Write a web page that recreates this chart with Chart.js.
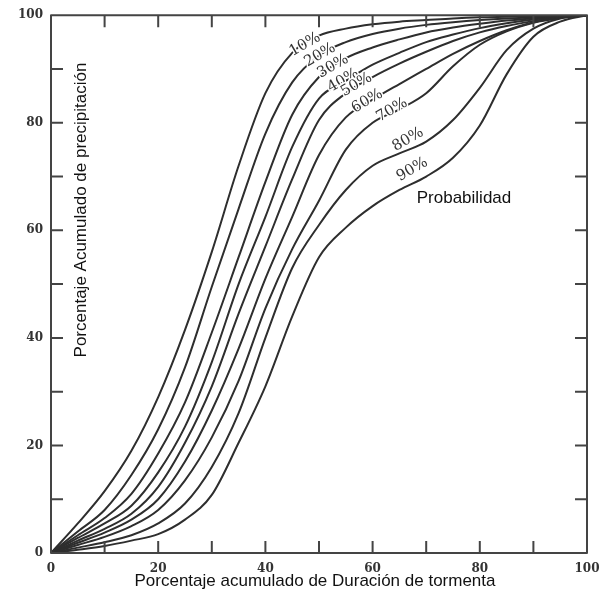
<!DOCTYPE html>
<html>
<head>
<meta charset="utf-8">
<title>Curvas de probabilidad</title>
<script src="https://cdn.jsdelivr.net/npm/chart.js@4.4.1/dist/chart.umd.min.js"></script>
<style>
  html, body { margin: 0; padding: 0; background: #fff; }
  canvas { display: block; background: #fff; }
</style>
</head>
<body>
<canvas id="grafico" width="610" height="598"></canvas>
<script>
// porcentaje acumulado de duracion (eje x)
var duracion = [0, 5, 10, 15, 20, 25, 30, 35, 40, 45, 50, 55, 60, 65, 70, 75, 80, 85, 90, 95, 100];

// porcentaje acumulado de precipitacion para cada probabilidad
var probabilidades = ['10%', '20%', '30%', '40%', '50%', '60%', '70%', '80%', '90%'];

var prob10 = [0, 5.5, 11.5, 19, 29, 41.5, 56, 72, 85.5, 93, 96.2, 97.5, 98.3, 98.8, 99.1, 99.4, 99.6, 99.7, 99.8, 99.9, 100];
var prob20 = [0, 4, 8, 14.5, 23, 34.5, 49.5, 64, 78, 87.5, 92.5, 95, 96.5, 97.5, 98.2, 98.7, 99.1, 99.4, 99.6, 99.8, 100];
var prob30 = [0, 3.3, 6.5, 11, 18.5, 28, 41, 55, 69, 81.5, 88.5, 92, 94, 95.5, 96.8, 97.7, 98.4, 99, 99.4, 99.7, 100];
var prob40 = [0, 2.8, 5.5, 8.8, 15, 23.5, 35.5, 50, 62.5, 75.5, 84.5, 87.8, 90.8, 93, 95, 96.4, 97.6, 98.5, 99.2, 99.7, 100];
var prob50 = [0, 2.3, 4.5, 7.3, 12.3, 20.5, 31, 44.5, 57, 69.5, 80.5, 85.5, 88.5, 91, 93.2, 95.2, 96.8, 98, 98.9, 99.6, 100];
var prob60 = [0, 1.9, 3.8, 6.2, 10, 17, 26.5, 38, 51, 62.5, 74, 81, 84.3, 87.2, 90, 92.8, 95.2, 97.2, 98.7, 99.6, 100];
var prob70 = [0, 1.5, 3, 5, 8, 13.5, 21.5, 32, 45.5, 56.5, 65.5, 75, 80, 82.5, 85.5, 90.5, 94.5, 97, 98.6, 99.5, 100];
var prob80 = [0, 1, 2, 3.3, 5.5, 9.2, 16, 26, 40, 53, 61, 67.5, 72, 74.3, 76.5, 80.5, 86.5, 93.5, 97.5, 99.4, 100];
var prob90 = [0, 0.6, 1.3, 2.3, 3.5, 6.2, 10.8, 20.5, 31, 44, 55, 60.5, 64.5, 67.5, 70, 73.5, 79.5, 89, 96, 98.8, 100];

var series = [prob10, prob20, prob30, prob40, prob50, prob60, prob70, prob80, prob90];

// etiquetas numericas de los ejes
var marcasEje = [0, 20, 40, 60, 80, 100];

var tituloX = 'Porcentaje acumulado de Duración de tormenta';
var tituloY = 'Porcentaje Acumulado de precipitación';
var textoProb = 'Probabilidad';

// rotulos de % : duracion donde se apoyan y cuanto suben (px)
var rotuloX = [47.4, 50.2, 52.6, 54.5, 57, 59, 63.6, 66.6, 67.4];
var rotuloSube = [0, 0, 1, 2, 2, 2, 3, 10, 14];

function valorEn(serie, xv) {
    for (var i = 1; i < duracion.length; i++) {
        if (duracion[i] >= xv) {
            var t = (xv - duracion[i - 1]) / (duracion[i] - duracion[i - 1]);
            return serie[i - 1] + (serie[i] - serie[i - 1]) * t;
        }
    }
    return serie[serie.length - 1];
}

var datasets = series.map(function (s, i) {
    return {
        label: probabilidades[i],
        data: s.map(function (v, k) { return { x: duracion[k], y: v }; }),
        borderColor: '#2e2e2e',
        borderWidth: 2,
        pointRadius: 0,
        fill: false,
        cubicInterpolationMode: 'monotone'
    };
});

// marco con marcas hacia adentro, rotulos y titulos
var marco = {
    id: 'marco',
    afterDatasetsDraw: function (chart) {
        var ctx = chart.ctx, a = chart.chartArea;
        var sx = chart.scales.x, sy = chart.scales.y;
        ctx.save();

        ctx.font = '15px "DejaVu Serif"';
        ctx.textAlign = 'center';
        ctx.textBaseline = 'middle';
        ctx.lineJoin = 'round';
        series.forEach(function (s, i) {
            var px = sx.getPixelForValue(rotuloX[i]);
            var py = sy.getPixelForValue(valorEn(s, rotuloX[i])) - rotuloSube[i];
            ctx.save();
            ctx.translate(px, py);
            ctx.rotate(-Math.PI / 6);
            ctx.strokeStyle = '#fff';
            ctx.lineWidth = 3;
            ctx.strokeText(probabilidades[i], 0, 0);
            ctx.fillStyle = '#333';
            ctx.fillText(probabilidades[i], 0, 0);
            ctx.restore();
        });

        ctx.strokeStyle = '#444';
        ctx.lineWidth = 2;
        ctx.strokeRect(a.left, a.top, a.right - a.left, a.bottom - a.top);
        ctx.beginPath();
        for (var v = 10; v < 100; v += 10) {
            var tx = sx.getPixelForValue(v), ty = sy.getPixelForValue(v);
            ctx.moveTo(tx, a.bottom); ctx.lineTo(tx, a.bottom - 12);
            ctx.moveTo(tx, a.top); ctx.lineTo(tx, a.top + 12);
            ctx.moveTo(a.left, ty); ctx.lineTo(a.left + 12, ty);
            ctx.moveTo(a.right, ty); ctx.lineTo(a.right - 12, ty);
        }
        ctx.stroke();

        ctx.fillStyle = '#111';
        ctx.font = '17px "Liberation Sans"';
        ctx.textAlign = 'center';
        ctx.textBaseline = 'middle';
        ctx.fillText(tituloX, 315, 581);
        ctx.fillText(textoProb, 464, 198);
        ctx.save();
        ctx.translate(81, 210);
        ctx.rotate(-Math.PI / 2);
        ctx.fillText(tituloY, 0, 0);
        ctx.restore();

        ctx.restore();
    }
};

var grafico = new Chart(document.getElementById('grafico'), {
    type: 'line',
    data: { datasets: datasets },
    options: {
        responsive: false,
        animation: false,
        devicePixelRatio: 1,
        layout: { padding: { left: 0, right: 23, top: 12, bottom: 0 } },
        plugins: { legend: { display: false }, tooltip: { enabled: false } },
        scales: {
            x: {
                type: 'linear', min: 0, max: 100,
                afterFit: function (s) { s.height = 45; },
                grid: { display: false, drawTicks: false },
                border: { display: false },
                ticks: {
                    stepSize: 20, padding: 9, color: '#333',
                    font: { family: 'DejaVu Serif', size: 12, weight: 'bold' },
                    callback: function (v) { return marcasEje.indexOf(v) >= 0 ? v : ''; }
                }
            },
            y: {
                type: 'linear', min: 0, max: 100,
                afterFit: function (s) { s.width = 51; },
                grid: { display: false, drawTicks: false },
                border: { display: false },
                ticks: {
                    stepSize: 20, padding: 8, color: '#333',
                    font: { family: 'DejaVu Serif', size: 12, weight: 'bold' },
                    callback: function (v) { return marcasEje.indexOf(v) >= 0 ? v : ''; }
                }
            }
        }
    },
    plugins: [marco]
});
</script>
</body>
</html>
